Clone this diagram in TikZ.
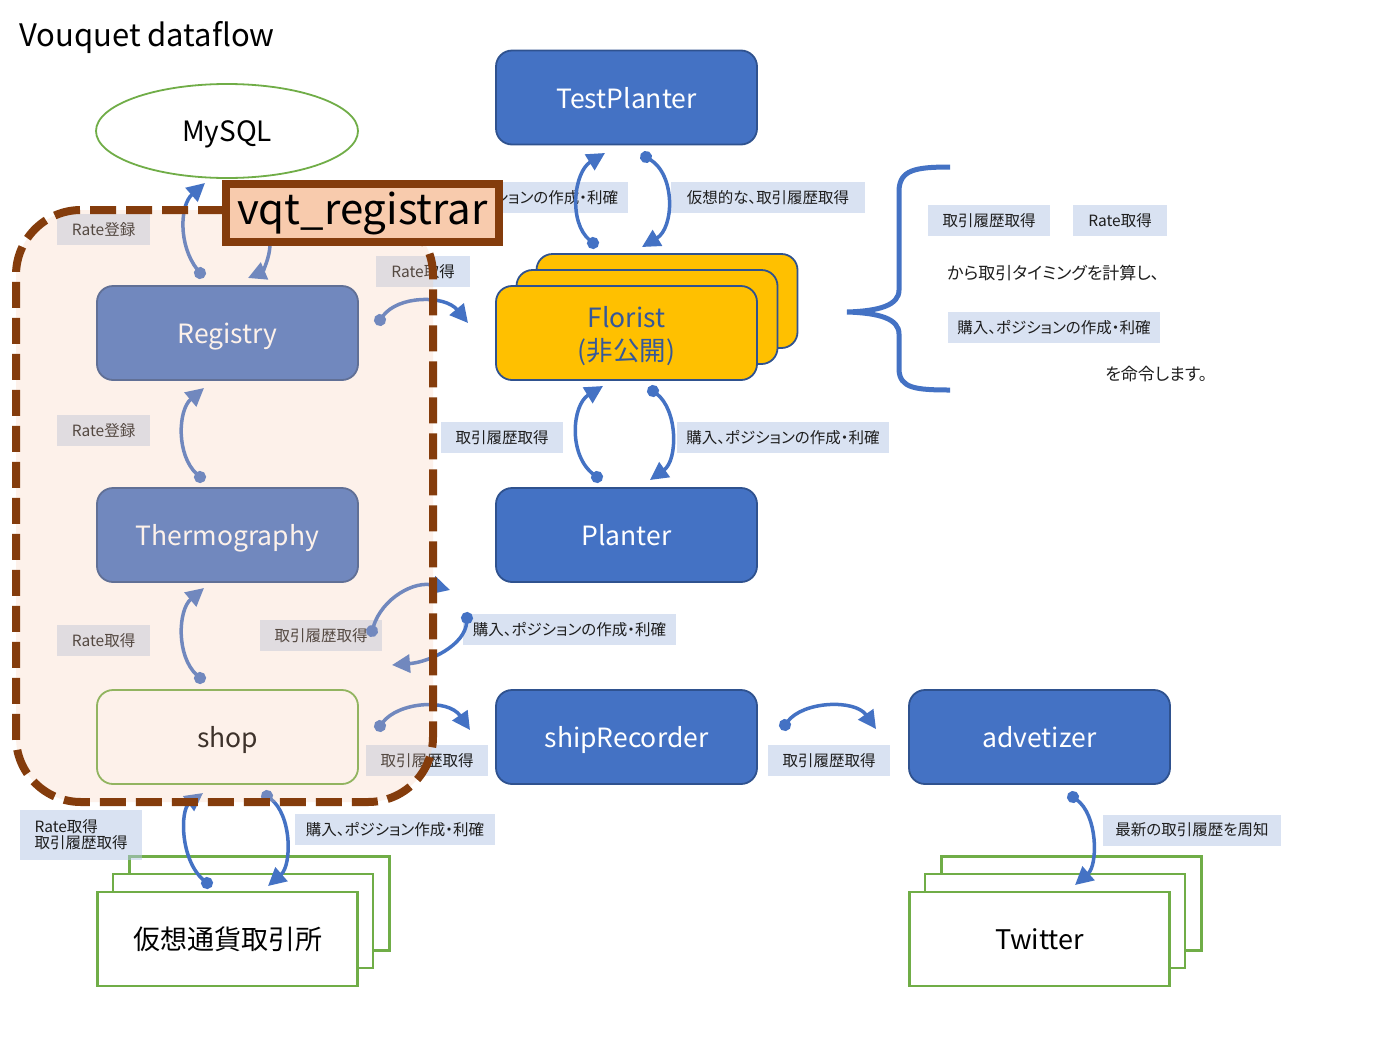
\documentclass[tikz,border=0pt]{standalone}
\usepackage{fontspec}
\setmainfont{Noto Sans CJK JP}[RawFeature=+palt]
\usetikzlibrary{arrows.meta,calc,shapes.geometric}
\definecolor{bl}{HTML}{4472C4}
\definecolor{bd}{HTML}{2F528F}
\definecolor{gr}{HTML}{70AD47}
\definecolor{brn}{HTML}{843C0C}
\definecolor{peach}{HTML}{F8CBAD}
\definecolor{lblfill}{HTML}{B4C7E7}
\definecolor{gold}{HTML}{FFC000}
\definecolor{flotext}{HTML}{35589A}
\definecolor{txt}{HTML}{1E1E1E}
\pgfdeclarelayer{over}
\pgfdeclarelayer{top}
\pgfsetlayers{main,over,top}
\begin{document}
\begin{tikzpicture}[x=1pt,y=-1pt,
  box/.style={rounded corners=16pt, minimum width=261pt, minimum height=94pt, line width=1.8pt, inner sep=0pt, text depth=0pt, font=\fontsize{26.5}{32}\selectfont},
  bluebox/.style={box, fill=bl, draw=bd, text=white},
  stackbox/.style={draw=gr, line width=2.5pt, fill=white, minimum width=260pt, minimum height=94pt, inner sep=0pt, font=\fontsize{27}{30}\selectfont},
  lbl/.style={fill=lblfill, fill opacity=0.5, text opacity=1, text=txt, font=\fontsize{15.5}{18}\selectfont, minimum height=31pt, inner sep=0pt},
  flow/.style={draw=bl, line width=3.5pt, shorten <=-6pt, {Circle[length=12pt]}-{Triangle[length=18pt,width=18pt]}}
]
\useasboundingbox (0,0) rectangle (1397,1047);
\fill[white] (0,0) rectangle (1397,1047);

\node[anchor=west, font=\fontsize{31}{34}\selectfont, inner sep=0pt, text depth=0pt] (title) at (19,34) {Vouquet dataflow};

\node[ellipse, draw=gr, line width=1.8pt, fill=white, minimum width=262pt, minimum height=94pt, text depth=0pt, font=\fontsize{28}{32}\selectfont] (mysql) at (227,131) {MySQL};

\node[bluebox] (testplanter) at (626.5,97.5) {TestPlanter};
\node[box, fill=gold, draw=bd] (florist3) at (667,301) {};
\node[box, fill=gold, draw=bd] (florist2) at (647,317) {};
\node[box, fill=gold, draw=bd, text=flotext, align=center, font=\fontsize{26.5}{33}\selectfont] (florist) at (626.5,333) {Florist\\(非公開)};
\node[bluebox] (planter) at (626.5,535) {Planter};
\node[bluebox] (shiprec) at (626.5,737) {shipRecorder};
\node[bluebox] (adv) at (1039.5,737) {advetizer};

\node[bluebox] (registry) at (227.5,333) {Registry};
\node[bluebox] (thermo) at (227.5,535) {Thermography};
\node[box, fill=white, draw=gr, text=black] (shop) at (227.5,737) {shop};

\node[stackbox] (exch3) at (259.5,903.5) {};
\node[stackbox] (exch2) at (243,921) {};
\node[stackbox] (exch) at (227.5,939) {仮想通貨取引所};
\node[stackbox] (tw3) at (1071.5,903.5) {};
\node[stackbox] (tw2) at (1055,921) {};
\node[stackbox, text depth=0pt] (twitter) at (1039.5,939) {Twitter};

% labels
\node[lbl, minimum width=93pt] (l1) at (103.5,229.5) {Rate登録};
\node[lbl, minimum width=93pt] (l2) at (103.5,430.5) {Rate登録};
\node[lbl, minimum width=93pt] (l3) at (103.5,640.5) {Rate取得};
\node[lbl, minimum width=122pt] (l4) at (321,635.5) {取引履歴取得};
\node[lbl, minimum width=94pt] (l5) at (423,271.5) {Rate取得};
\node[lbl, minimum width=213pt] (l6) at (521.5,197.5) {購入、ポジションの作成・利確};
\node[lbl, minimum width=194pt] (l7) at (768,197.5) {仮想的な、取引履歴取得};
\node[lbl, minimum width=122pt] (l8) at (989,220.5) {取引履歴取得};
\node[lbl, minimum width=94pt] (l9) at (1120,220.5) {Rate取得};
\node[lbl, minimum width=212pt] (l10) at (1054,327.5) {購入、ポジションの作成・利確};
\node[lbl, minimum width=122pt] (l11) at (502,437.5) {取引履歴取得};
\node[lbl, minimum width=212pt] (l12) at (783,437.5) {購入、ポジションの作成・利確};
\node[lbl, minimum width=213pt] (l13) at (569.5,629.5) {購入、ポジションの作成・利確};
\node[lbl, minimum width=122pt] (l14) at (427,760.5) {取引履歴取得};
\node[lbl, minimum width=122pt] (l15) at (829,760.5) {取引履歴取得};
\node[lbl, minimum width=122pt, minimum height=50pt, align=left] (l16) at (81,835) {Rate取得\\[-2pt]取引履歴取得};
\node[lbl, minimum width=200pt] (l17) at (395,829.5) {購入、ポジション作成・利確};
\node[lbl, minimum width=178pt] (l18) at (1192,830) {最新の取引履歴を周知};

% group region and registrar box on upper layers
\begin{pgfonlayer}{over}
\node[draw=brn, fill=peach, fill opacity=0.25, draw opacity=1, line width=8pt, dash pattern=on 26pt off 10pt, rounded corners=65pt, minimum width=417pt, minimum height=592pt, inner sep=0pt] (region) at (224.5,506) {};
\end{pgfonlayer}
\begin{pgfonlayer}{top}
\node[fill=peach, draw=brn, line width=8pt, minimum width=273pt, minimum height=58pt, inner sep=0pt, font=\fontsize{42}{44}\selectfont] (vqt) at (362.5,213) {vqt\_registrar};
\end{pgfonlayer}

% connectors
\draw[flow] ($(registry)+(-27.5,-60)$) .. controls +(-22,-28) and +(-25,22) .. ($(mysql)+(-22,52)$);
\draw[flow] ($(vqt)+(-92.5,27)$) .. controls +(0,18) and +(14,-6) .. ($(registry)+(20.5,-55)$);
\draw[flow] ($(registry)+(152.5,-13)$) .. controls +(18,-25) and +(-23,-28) .. ($(florist)+(-158.5,-10)$);
\draw[flow] ($(florist)+(-33.5,-90)$) .. controls +(-25,-21) and +(-31,19) .. ($(testplanter)+(-21.5,55.5)$);
\draw[flow] ($(testplanter)+(19.5,59.5)$) .. controls +(30,18) and +(32,-19) .. ($(florist)+(15.5,-86)$);
\draw[flow] ($(planter)+(-29.5,-58)$) .. controls +(-29,-22) and +(-31,19) .. ($(florist)+(-23.5,53)$);
\draw[flow] ($(florist)+(26.5,58)$) .. controls +(25,19) and +(28,-20) .. ($(planter)+(23.5,-55)$);
\draw[flow] ($(thermo)+(-27.5,-58)$) .. controls +(-24,-22) and +(-26,22) .. ($(registry)+(-23.5,55)$);
\draw[flow] ($(shop)+(-27.5,-59)$) .. controls +(-24,-22) and +(-26,22) .. ($(thermo)+(-23.5,53)$);
\draw[flow] ($(shop)+(144.5,-106)$) .. controls +(10,-33) and +(-35,-10) .. ($(planter)+(-176.5,55)$);
\draw[flow] ($(planter)+(-159.5,83)$) .. controls +(-2,27) and +(38,-3) .. ($(shop)+(164.5,-72)$);
\draw[flow] ($(shop)+(152.5,-11)$) .. controls +(18,-24) and +(-22,-32) .. ($(shiprec)+(-156.5,-7)$);
\draw[flow] ($(shiprec)+(158.5,-12)$) .. controls +(18,-24) and +(-21,-30) .. ($(adv)+(-163.5,-8)$);
\draw[flow] ($(exch)+(-20.5,-56)$) .. controls +(-27,-23) and +(-23,17) .. ($(shop)+(-24.5,56)$);
\draw[flow] ($(shop)+(39.5,59)$) .. controls +(25,19) and +(24,-21) .. ($(exch)+(40.5,-53)$);
\draw[flow] ($(adv)+(33.5,60)$) .. controls +(25,18) and +(23,-20) .. ($(twitter)+(35.5,-54)$);

% brace and explanation
\draw[bl, line width=5pt] (950,167) .. controls (915,167) and (900,170) .. (899,190) -- (899,290) .. controls (899,305) and (880,311) .. (847,312) .. controls (880,313) and (899,319) .. (899,334) -- (899,370) .. controls (900,388) and (915,390) .. (950,390);
\node[anchor=west, inner sep=0pt, text=txt, font=\fontsize{17}{19}\selectfont] (t1) at (947,273) {から取引タイミングを計算し、};
\node[anchor=west, inner sep=0pt, text=txt, font=\fontsize{17}{19}\selectfont] (t2) at (1105,374) {を命令します。};
\end{tikzpicture}
\end{document}
